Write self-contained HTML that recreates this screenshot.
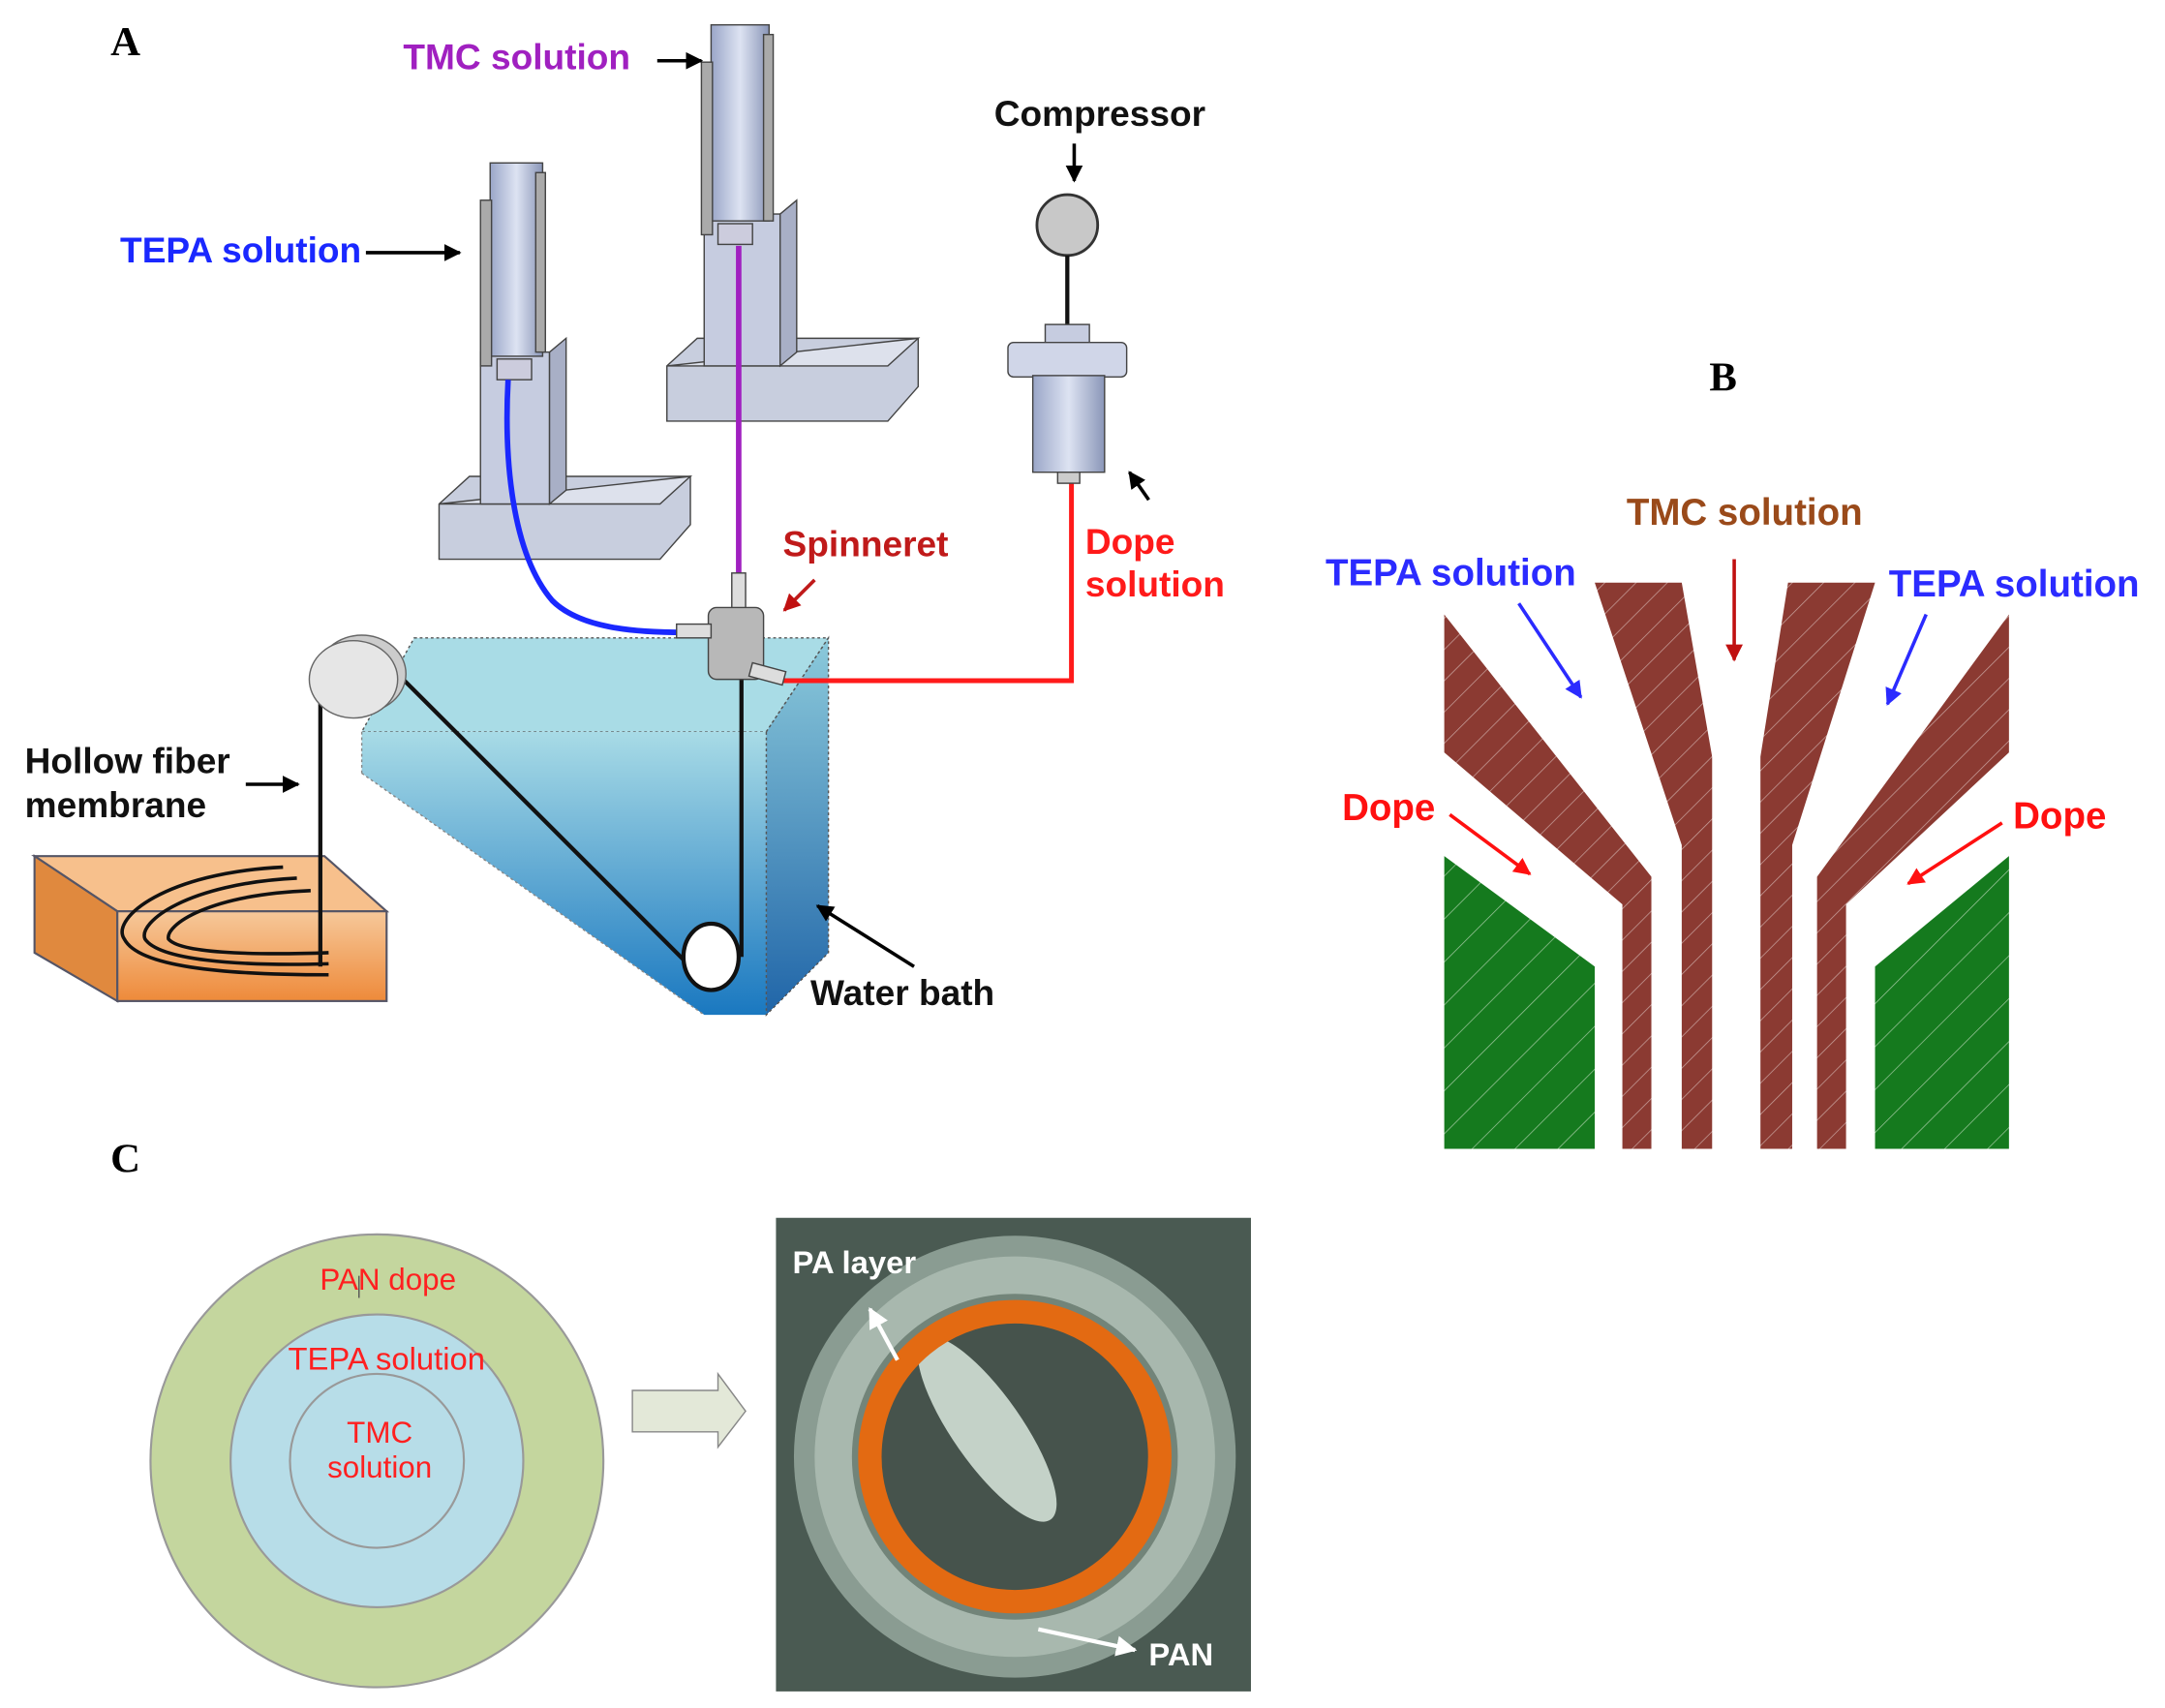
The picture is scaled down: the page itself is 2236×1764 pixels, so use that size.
<!DOCTYPE html>
<html><head><meta charset="utf-8"><style>
html,body{margin:0;padding:0;background:#fff}
svg{display:block}
text{font-family:"Liberation Sans",sans-serif;font-weight:bold}
</style></head><body>
<svg width="2236" height="1764" viewBox="0 0 1568 1237" xmlns="http://www.w3.org/2000/svg">
<defs>
<linearGradient id="wb" x1="0" y1="0" x2="0" y2="1"><stop offset="0" stop-color="#a8dbe6"/><stop offset="1" stop-color="#1a78c0"/></linearGradient>
<linearGradient id="wbs" x1="0" y1="0" x2="0" y2="1"><stop offset="0" stop-color="#8ccadb"/><stop offset="1" stop-color="#2065a8"/></linearGradient>
<linearGradient id="cyl" x1="0" y1="0" x2="1" y2="0"><stop offset="0" stop-color="#9aa6c8"/><stop offset="0.5" stop-color="#dde3f2"/><stop offset="1" stop-color="#8a96b8"/></linearGradient>
<linearGradient id="or" x1="0" y1="0" x2="0" y2="1"><stop offset="0" stop-color="#f6c89a"/><stop offset="1" stop-color="#ee8a3a"/></linearGradient>
<pattern id="hb" width="16" height="16" patternUnits="userSpaceOnUse" patternTransform="rotate(45)"><rect width="16" height="16" fill="#8b3a32"/><line x1="0" y1="0" x2="0" y2="16" stroke="#c9a39e" stroke-width="1"/></pattern>
<pattern id="hg" width="22" height="22" patternUnits="userSpaceOnUse" patternTransform="rotate(45)"><rect width="22" height="22" fill="#157a1e"/><line x1="0" y1="0" x2="0" y2="22" stroke="#9fc89f" stroke-width="1"/></pattern>
<marker id="ak" markerWidth="5" markerHeight="5" refX="4.5" refY="2.5" orient="auto" markerUnits="strokeWidth"><path d="M0,0 L5,2.5 L0,5 z" fill="#000"/></marker>
<marker id="ab" markerWidth="5" markerHeight="5" refX="4.5" refY="2.5" orient="auto" markerUnits="strokeWidth"><path d="M0,0 L5,2.5 L0,5 z" fill="#2b2bff"/></marker>
<marker id="ar" markerWidth="5" markerHeight="5" refX="4.5" refY="2.5" orient="auto" markerUnits="strokeWidth"><path d="M0,0 L5,2.5 L0,5 z" fill="#ff1010"/></marker>
<marker id="adr" markerWidth="5" markerHeight="5" refX="4.5" refY="2.5" orient="auto" markerUnits="strokeWidth"><path d="M0,0 L5,2.5 L0,5 z" fill="#c01010"/></marker>
<marker id="aw" markerWidth="5" markerHeight="5" refX="4.5" refY="2.5" orient="auto" markerUnits="strokeWidth"><path d="M0,0 L5,2.5 L0,5 z" fill="#fff"/></marker>
</defs>

<text x="80" y="40" font-size="30" style="font-family:'Liberation Serif',serif">A</text>

<!-- Water bath -->
<polygon points="300,462 600,462 555,530 262,530" fill="#a9dce6" stroke="#555" stroke-dasharray="2,2"/>
<polygon points="262,530 555,530 555,735 510,735 262,560" fill="url(#wb)"/>
<polygon points="262,560 510,735 262,735" fill="#fff"/>
<line x1="262" y1="560" x2="510" y2="735" stroke="#888" stroke-dasharray="2,2"/>
<line x1="262" y1="530" x2="262" y2="560" stroke="#888" stroke-dasharray="2,2"/>
<polygon points="555,530 600,462 600,690 555,735" fill="url(#wbs)" stroke="#555" stroke-dasharray="2,2"/>

<!-- Orange box -->
<polygon points="25,620 235,620 280,660 85,660" fill="#f7c08c" stroke="#556" stroke-width="1.5"/>
<polygon points="25,620 85,660 85,725 25,690" fill="#e0893e" stroke="#556" stroke-width="1.5"/>
<rect x="85" y="660" width="195" height="65" fill="url(#or)" stroke="#556" stroke-width="1.5"/>
<g fill="none" stroke="#111" stroke-width="2.5">
<path d="M205,628 C120,632 80,665 90,680 C100,700 160,706 238,706"/>
<path d="M215,636 C135,640 100,668 105,680 C115,695 170,700 238,698"/>
<path d="M225,645 C150,648 120,670 122,680 C130,690 180,692 238,690"/>
</g>
<g fill="none" stroke="#111" stroke-width="3">
<line x1="232" y1="700" x2="232" y2="490"/>
<line x1="270" y1="470" x2="500" y2="700"/>
<line x1="537" y1="693" x2="537" y2="490"/>
</g>
<ellipse cx="262" cy="488" rx="32" ry="28" fill="#ccc" stroke="#666"/>
<ellipse cx="256" cy="492" rx="32" ry="28" fill="#e6e6e6" stroke="#666"/>
<ellipse cx="515" cy="693" rx="20" ry="24" fill="#fff" stroke="#111" stroke-width="3"/>

<!-- Left pump -->
<polygon points="318,365 340,345 500,345 500,380 478,405 318,405" fill="#c8cede" stroke="#444"/>
<polygon points="318,365 478,365 500,345" fill="#dde1ec" stroke="#444"/>
<rect x="348" y="255" width="50" height="110" fill="#c6cce0" stroke="#444"/>
<polygon points="398,255 410,245 410,355 398,365" fill="#a8afc6" stroke="#444"/>
<rect x="355" y="118" width="38" height="140" fill="url(#cyl)" stroke="#444"/>
<rect x="348" y="145" width="8" height="120" fill="#aaa" stroke="#444"/>
<rect x="388" y="125" width="7" height="130" fill="#aaa" stroke="#444"/>
<rect x="360" y="260" width="25" height="15" fill="#ccd" stroke="#444"/>
<!-- Right pump -->
<polygon points="483,265 505,245 665,245 665,280 643,305 483,305" fill="#c8cede" stroke="#444"/>
<polygon points="483,265 643,265 665,245" fill="#dde1ec" stroke="#444"/>
<rect x="510" y="155" width="55" height="110" fill="#c6cce0" stroke="#444"/>
<polygon points="565,155 577,145 577,255 565,265" fill="#a8afc6" stroke="#444"/>
<rect x="515" y="18" width="42" height="142" fill="url(#cyl)" stroke="#444"/>
<rect x="508" y="45" width="8" height="125" fill="#aaa" stroke="#444"/>
<rect x="553" y="25" width="7" height="135" fill="#aaa" stroke="#444"/>
<rect x="520" y="162" width="25" height="15" fill="#ccd" stroke="#444"/>

<path d="M368,275 C365,330 370,400 400,435 C420,455 460,458 495,458" fill="none" stroke="#1a28ff" stroke-width="4"/>
<line x1="535" y1="178" x2="535" y2="440" stroke="#a020c0" stroke-width="4"/>
<polyline points="565,493 776,493 776,350" fill="none" stroke="#ff1a1a" stroke-width="3.5"/>

<rect x="530" y="415" width="10" height="30" fill="#ddd" stroke="#444"/>
<rect x="513" y="440" width="40" height="52" rx="6" fill="#b8b8b8" stroke="#444"/>
<rect x="490" y="452" width="25" height="10" fill="#ddd" stroke="#444"/>
<rect x="545" y="480" width="25" height="10" fill="#ddd" stroke="#444" transform="rotate(15 545 480)"/>

<circle cx="773" cy="163" r="22" fill="#c8c8c8" stroke="#333" stroke-width="2"/>
<line x1="773" y1="185" x2="773" y2="237" stroke="#111" stroke-width="3"/>
<rect x="757" y="235" width="32" height="14" fill="#c6cce0" stroke="#444"/>
<rect x="730" y="248" width="86" height="25" rx="4" fill="#d0d6e8" stroke="#444"/>
<rect x="748" y="272" width="52" height="70" fill="url(#cyl)" stroke="#444"/>
<rect x="766" y="342" width="16" height="8" fill="#ccc" stroke="#444"/>

<!-- A labels -->
<text x="292" y="50" font-size="26" fill="#a020c0">TMC solution</text>
<line x1="476" y1="44" x2="508" y2="44" stroke="#000" stroke-width="2.5" marker-end="url(#ak)"/>
<text x="87" y="190" font-size="26" fill="#1a28ff">TEPA solution</text>
<line x1="265" y1="183" x2="333" y2="183" stroke="#000" stroke-width="2.5" marker-end="url(#ak)"/>
<text x="720" y="91" font-size="26" fill="#111">Compressor</text>
<line x1="778" y1="104" x2="778" y2="131" stroke="#000" stroke-width="2.5" marker-end="url(#ak)"/>
<text x="567" y="403" font-size="26" fill="#c01a1a">Spinneret</text>
<line x1="590" y1="420" x2="568" y2="442" stroke="#c01a1a" stroke-width="2.5" marker-end="url(#adr)"/>
<text x="786" y="401" font-size="26" fill="#ff1a1a">Dope</text>
<text x="786" y="432" font-size="26" fill="#ff1a1a">solution</text>
<line x1="832" y1="362" x2="818" y2="342" stroke="#000" stroke-width="2.5" marker-end="url(#ak)"/>
<text x="18" y="560" font-size="26" fill="#111">Hollow fiber</text>
<text x="18" y="592" font-size="26" fill="#111">membrane</text>
<line x1="178" y1="568" x2="216" y2="568" stroke="#000" stroke-width="2.5" marker-end="url(#ak)"/>
<text x="587" y="728" font-size="26" fill="#111">Water bath</text>
<line x1="662" y1="700" x2="592" y2="656" stroke="#000" stroke-width="2.5" marker-end="url(#ak)"/>

<!-- B -->
<text x="1238" y="283" font-size="30" style="font-family:'Liberation Serif',serif">B</text>
<polygon points="1155,422 1218,422 1240,548 1240,832 1218,832 1218,612" fill="url(#hb)"/>
<polygon points="1295,422 1358,422 1298,612 1298,832 1275,832 1275,548" fill="url(#hb)"/>
<polygon points="1046,445 1196,635 1196,832 1175,832 1175,655 1046,545" fill="url(#hb)"/>
<polygon points="1455,445 1316,635 1316,832 1337,832 1337,655 1455,545" fill="url(#hb)"/>
<polygon points="1046,620 1155,700 1155,832 1046,832" fill="url(#hg)"/>
<polygon points="1455,620 1358,700 1358,832 1455,832" fill="url(#hg)"/>
<text x="1178" y="380" font-size="27" fill="#9a4a1a">TMC solution</text>
<line x1="1256" y1="405" x2="1256" y2="478" stroke="#c01010" stroke-width="2.5" marker-end="url(#adr)"/>
<text x="960" y="424" font-size="27" fill="#2b2bff">TEPA solution</text>
<line x1="1100" y1="437" x2="1145" y2="505" stroke="#2b2bff" stroke-width="2.5" marker-end="url(#ab)"/>
<text x="1368" y="432" font-size="27" fill="#2b2bff">TEPA solution</text>
<line x1="1395" y1="445" x2="1367" y2="510" stroke="#2b2bff" stroke-width="2.5" marker-end="url(#ab)"/>
<text x="972" y="594" font-size="27" fill="#ff1010">Dope</text>
<line x1="1050" y1="590" x2="1108" y2="633" stroke="#ff1010" stroke-width="2.5" marker-end="url(#ar)"/>
<text x="1458" y="600" font-size="27" fill="#ff1010">Dope</text>
<line x1="1450" y1="596" x2="1382" y2="640" stroke="#ff1010" stroke-width="2.5" marker-end="url(#ar)"/>

<!-- C -->
<text x="80" y="849" font-size="30" style="font-family:'Liberation Serif',serif">C</text>
<circle cx="273" cy="1058" r="164" fill="#c4d69e" stroke="#999" stroke-width="1.5"/>
<circle cx="273" cy="1058" r="106" fill="#b7dde8" stroke="#999" stroke-width="1.5"/>
<circle cx="273" cy="1058" r="63" fill="#b7dde8" stroke="#999" stroke-width="1.5"/>
<line x1="260" y1="924" x2="260" y2="940" stroke="#555"/>
<text x="281" y="934" font-size="22" fill="#ff2020" text-anchor="middle" style="font-weight:normal">PAN dope</text>
<text x="280" y="992" font-size="23" fill="#ff2020" text-anchor="middle" style="font-weight:normal">TEPA solution</text>
<text x="275" y="1045" font-size="22" fill="#ff2020" text-anchor="middle" style="font-weight:normal">TMC</text>
<text x="275" y="1070" font-size="22" fill="#ff2020" text-anchor="middle" style="font-weight:normal">solution</text>
<polygon points="458,1007 520,1007 520,995 540,1022 520,1048 520,1037 458,1037" fill="#e3e8d8" stroke="#888"/>

<!-- SEM -->
<rect x="562" y="882" width="344" height="343" fill="#4a5a52"/>
<circle cx="735" cy="1055" r="160" fill="#8a9c92"/>
<circle cx="735" cy="1055" r="145" fill="#a8b8ae"/>
<circle cx="735" cy="1055" r="118" fill="#728479"/>
<circle cx="735" cy="1055" r="104" fill="#46534c"/>
<ellipse cx="715" cy="1035" rx="80" ry="25" transform="rotate(55 715 1035)" fill="#c4d2c8"/>
<circle cx="735" cy="1055" r="105" fill="none" stroke="#e36a12" stroke-width="17"/>
<text x="574" y="922" font-size="23" fill="#fff">PA layer</text>
<line x1="650" y1="985" x2="630" y2="948" stroke="#fff" stroke-width="3" marker-end="url(#aw)"/>
<text x="832" y="1206" font-size="23" fill="#fff">PAN</text>
<line x1="752" y1="1180" x2="822" y2="1195" stroke="#fff" stroke-width="3" marker-end="url(#aw)"/>
</svg>
</body></html>
